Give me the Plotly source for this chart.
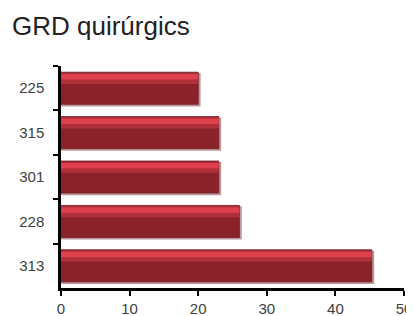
import plotly.graph_objects as go

categories = ["225", "315", "301", "228", "313"]
values = [20, 23, 23, 26, 45.3]
x_ticks = [0, 10, 20, 30, 40, 50]
title_text = "GRD quirúrgics"

FONT = "Liberation Sans, Arial, sans-serif"

fig = go.Figure()

# soft drop shadow
fig.add_trace(go.Bar(
    y=categories, x=[v + 0.35 for v in values], orientation="h",
    offset=-0.34, width=0.75,
    marker=dict(color="rgba(140,80,86,0.6)", line=dict(width=0)),
    hoverinfo="skip", showlegend=False))
# main bar body
fig.add_trace(go.Bar(
    y=categories, x=values, orientation="h",
    offset=-0.36, width=0.72,
    marker=dict(color="#8c2229", line=dict(color="#6e1a20", width=0.8)),
    showlegend=False))
# upper gradient area
fig.add_trace(go.Bar(
    y=categories, x=values, orientation="h",
    offset=-0.345, width=0.25,
    marker=dict(color="#b0303a", line=dict(width=0)),
    hoverinfo="skip", showlegend=False))
# bright highlight band
fig.add_trace(go.Bar(
    y=categories, x=values, orientation="h",
    offset=-0.315, width=0.12,
    marker=dict(color="#de414d", line=dict(width=0)),
    hoverinfo="skip", showlegend=False))

# the page body adds an 8px margin, so the figure is 8px smaller on each side
fig.update_layout(
    width=406, height=308,
    barmode="overlay",
    paper_bgcolor="white", plot_bgcolor="white",
    margin=dict(l=53, r=10, t=58, b=28),
    font=dict(family=FONT, size=15, color="#404040"),
    title=dict(text=title_text, x=0, xref="container", xanchor="left",
               y=1, yref="container", yanchor="top", pad=dict(l=4, t=9),
               font=dict(family=FONT, size=26, color="#222222")),
    xaxis=dict(range=[0, 50], tickvals=x_ticks, ticks="outside", ticklen=5,
               tickwidth=2, tickcolor="black", showline=True, linewidth=2.5,
               linecolor="black", showgrid=False, zeroline=False,
               automargin=False,
               tickfont=dict(size=15, color="#404040")),
    yaxis=dict(type="category", autorange="reversed", categoryorder="array",
               categoryarray=categories, tickson="boundaries", ticks="outside",
               ticklen=5, tickwidth=2, tickcolor="black", showline=True,
               linewidth=2.5, linecolor="black", showgrid=False,
               automargin=False,
               tickfont=dict(size=15, color="#404040"), ticklabelstandoff=11),
)

fig.write_html("out.html")
